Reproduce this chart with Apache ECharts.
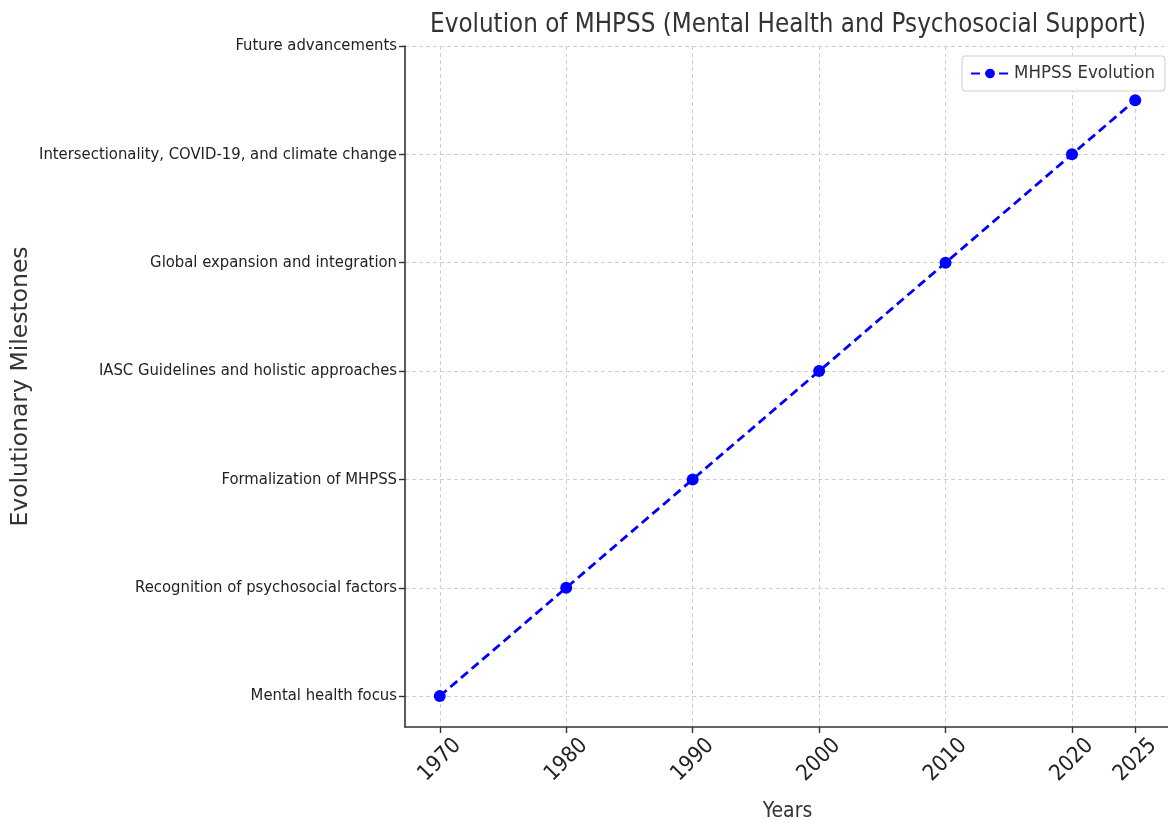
<!DOCTYPE html>
<html>
<head>
<meta charset="utf-8">
<script src="https://cdn.jsdelivr.net/npm/echarts@6/dist/echarts.min.js"></script>
<style>
  html, body { margin: 0; padding: 0; background: #fff; }
  #chart { width: 1168px; height: 823px; }
</style>
</head>
<body>
<div id="chart"></div>
<script>
// data
var years = [1970, 1980, 1990, 2000, 2010, 2020, 2025]
var levels = [0, 1, 2, 3, 4, 5, 5.5]
var milestones = [
  'Mental health focus',
  'Recognition of psychosocial factors',
  'Formalization of MHPSS',
  'IASC Guidelines and holistic approaches',
  'Global expansion and integration',
  'Intersectionality, COVID-19, and climate change',
  'Future advancements'
]
var yearTicks = [1970, 1980, 1990, 2000, 2010, 2020, 2025]
var levelTicks = [0, 1, 2, 3, 4, 5, 6]

var narrow = '"DejaVu Sans Condensed", "Liberation Sans Narrow", "DejaVu Sans", sans-serif'

var chart = echarts.init(document.getElementById('chart'))

chart.setOption({
  animation: false,
  title: {
    text: 'Evolution of MHPSS (Mental Health and Psychosocial Support)',
    left: 783,
    top: 7,
    textAlign: 'center',
    textStyle: { fontFamily: narrow, fontSize: 25.7, fontWeight: 'normal', color: '#333' }
  },
  legend: {
    right: 3,
    top: 56,
    padding: [8, 10, 8, 8],
    borderColor: '#ccc',
    borderWidth: 1,
    borderRadius: 3,
    backgroundColor: '#fff',
    itemWidth: 38,
    itemHeight: 12,
    textStyle: { fontFamily: narrow, fontSize: 18.5, color: '#333' },
    data: ['MHPSS Evolution']
  },
  grid: { left: 405, top: 46, width: 765, height: 681, containLabel: false, outerBoundsMode: 'none' },
  xAxis: {
    type: 'value',
    min: 1967.25,
    max: 2027.75,
    name: 'Years',
    nameLocation: 'middle',
    nameGap: 74,
    nameMoveOverlap: false,
    nameTextStyle: { fontFamily: narrow, fontSize: 21, color: '#333' },
    axisLine: { show: true, onZero: false, lineStyle: { color: '#333', width: 1.6 } },
    axisTick: { show: true, length: 6, customValues: yearTicks, lineStyle: { color: '#333', width: 1.4 } },
    axisLabel: {
      customValues: yearTicks,
      rotate: 45,
      align: 'center',
      verticalAlign: 'middle',
      margin: 33,
      fontFamily: narrow,
      fontSize: 22,
      color: '#222',
      formatter: function (v) { return String(v) }
    },
    splitLine: { show: true, lineStyle: { color: '#d0d0d0', type: [4, 3], width: 1 } }
  },
  yAxis: {
    type: 'value',
    min: -0.285,
    max: 6,
    name: 'Evolutionary Milestones',
    nameLocation: 'middle',
    nameGap: 372,
    nameMoveOverlap: false,
    nameRotate: 90,
    nameTextStyle: { fontFamily: '"DejaVu Sans", sans-serif', fontSize: 23.5, color: '#333' },
    axisLine: { show: true, onZero: false, lineStyle: { color: '#333', width: 1.6 } },
    axisTick: { show: true, length: 6, customValues: levelTicks, lineStyle: { color: '#333', width: 1.4 } },
    axisLabel: {
      customValues: levelTicks,
      margin: 8,
      fontFamily: narrow,
      fontSize: 16.5,
      color: '#222',
      formatter: function (v) { return milestones[Math.round(v)] || '' }
    },
    splitLine: { show: true, lineStyle: { color: '#d0d0d0', type: [4, 3], width: 1 } }
  },
  series: [{
    name: 'MHPSS Evolution',
    type: 'line',
    data: years.map(function (y, i) { return [y, levels[i]] }),
    symbol: 'circle',
    symbolSize: 12,
    itemStyle: { color: '#0000ff' },
    lineStyle: { color: '#0000ff', width: 2.8, type: [9, 5] }
  }]
})
</script>
</body>
</html>
